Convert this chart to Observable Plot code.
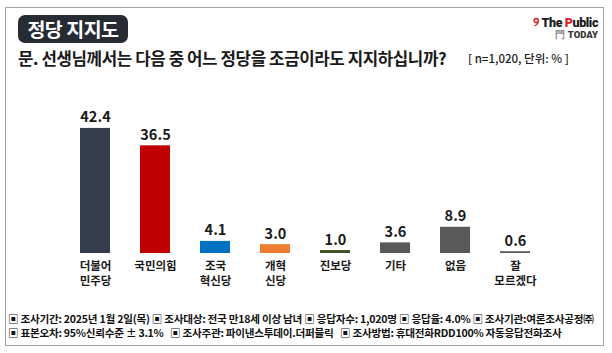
<!DOCTYPE html>
<html>
<head>
<meta charset="utf-8">
<script src="https://cdn.jsdelivr.net/npm/d3@7"></script>
<script src="https://cdn.jsdelivr.net/npm/@observablehq/plot@0.6"></script>
<style>
  body { margin: 0; background: #fff; }
  #page { position: relative; width: 612px; height: 353px; overflow: hidden; background: #fff;
          font-family: "Noto Sans CJK KR", "Noto Sans", sans-serif; color: #1a1a1a; }
  .abs { position: absolute; white-space: nowrap; }
  #frame { left: 5px; top: 7px; width: 597px; height: 337px; border: 1px solid #a3a3a3; }
  #pill { left: 18px; top: 15px; width: 110px; height: 28px; border-radius: 7px; background: #272b34;
          color: #fff; font-size: 19.5px; font-weight: 700; text-align: center; line-height: 28px; letter-spacing: -0.5px; }
  #question { left: 18px; top: 46px; font-size: 16.8px; font-weight: 700; letter-spacing: -0.4px; }
  #note { left: 468px; top: 50px; font-size: 11.5px; font-weight: 500; }
  #logo1 { right: 14px; top: 15px; font-family: Roboto, "Noto Sans", sans-serif; font-size: 12.5px; font-weight: 900; letter-spacing: -0.4px; }
  #logo2 { right: 14px; top: 29px; font-family: Roboto, "Noto Sans", sans-serif; font-size: 9.5px; font-weight: 900; color: #333; }
  #chart { left: 0px; top: 80px; }
  .foot { left: 8px; font-size: 10.6px; font-weight: 700; letter-spacing: -0.25px; color: #111; }
  #foot1 { top: 311px; }
  #foot2 { top: 325px; }
</style>
</head>
<body>
<div id="page">
  <div id="frame" class="abs"></div>
  <div id="pill" class="abs">정당 지지도</div>
  <div id="question" class="abs">문. 선생님께서는 다음 중 어느 정당을 조금이라도 지지하십니까?</div>
  <div id="note" class="abs">[ n=1,020, 단위: % ]</div>
  <div id="logo1" class="abs"><span style="color:#d8232a">୨</span> The <span style="color:#d8232a">P</span>ublic</div>
  <div id="logo2" class="abs"><span style="color:#888">門</span> TODAY</div>
  <div id="chart" class="abs"></div>
  <div id="foot1" class="abs foot">▣ 조사기간: 2025년 1월 2일(목) ▣ 조사대상: 전국 만18세 이상 남녀 ▣ 응답자수: 1,020명 ▣ 응답율: 4.0% ▣ 조사기관:여론조사공정㈜</div>
  <div id="foot2" class="abs foot">▣ 표본오차: 95%신뢰수준 ± 3.1% &nbsp;&nbsp;▣ 조사주관: 파이낸스투데이.더퍼블릭 &nbsp;&nbsp;▣ 조사방법: 휴대전화RDD100% 자동응답전화조사</div>
</div>
<script>
const categories = ["더불어\n민주당", "국민의힘", "조국\n혁신당", "개혁\n신당", "진보당", "기타", "없음", "잘\n모르겠다"];
const values = [42.4, 36.5, 4.1, 3.0, 1.0, 3.6, 8.9, 0.6];
const colors = ["#343c4b", "#c00000", "#0070c0", "#ed7d31", "#3e5125", "#595959", "#595959", "#595959"];

const data = categories.map((c, i) => ({category: c, value: values[i]}));

const chart = Plot.plot({
  width: 612,
  height: 215,
  marginLeft: 50,
  marginRight: 52,
  marginTop: 25.5,
  marginBottom: 42,
  style: {fontFamily: "'Noto Sans CJK KR', sans-serif", color: "#1a1a1a", background: "transparent"},
  x: {domain: categories, padding: 0.5, axis: null},
  y: {domain: [0, 50], axis: null},
  color: {domain: categories, range: colors},
  marks: [
    Plot.barY(data, {x: "category", y: "value", fill: "category"}),
    Plot.text(data, {x: "category", y: "value", text: d => d.value.toFixed(1), lineAnchor: "bottom", dy: -6,
                     fontSize: 14.5, fontWeight: 700, fill: "#1a1a1a"}),
    Plot.axisX({tickSize: 0, tickPadding: 6, fontSize: 11.5, fontWeight: 700, lineHeight: 1.3, letterSpacing: -0.7, label: null})
  ]
});
document.getElementById("chart").appendChild(chart);
</script>
</body>
</html>
